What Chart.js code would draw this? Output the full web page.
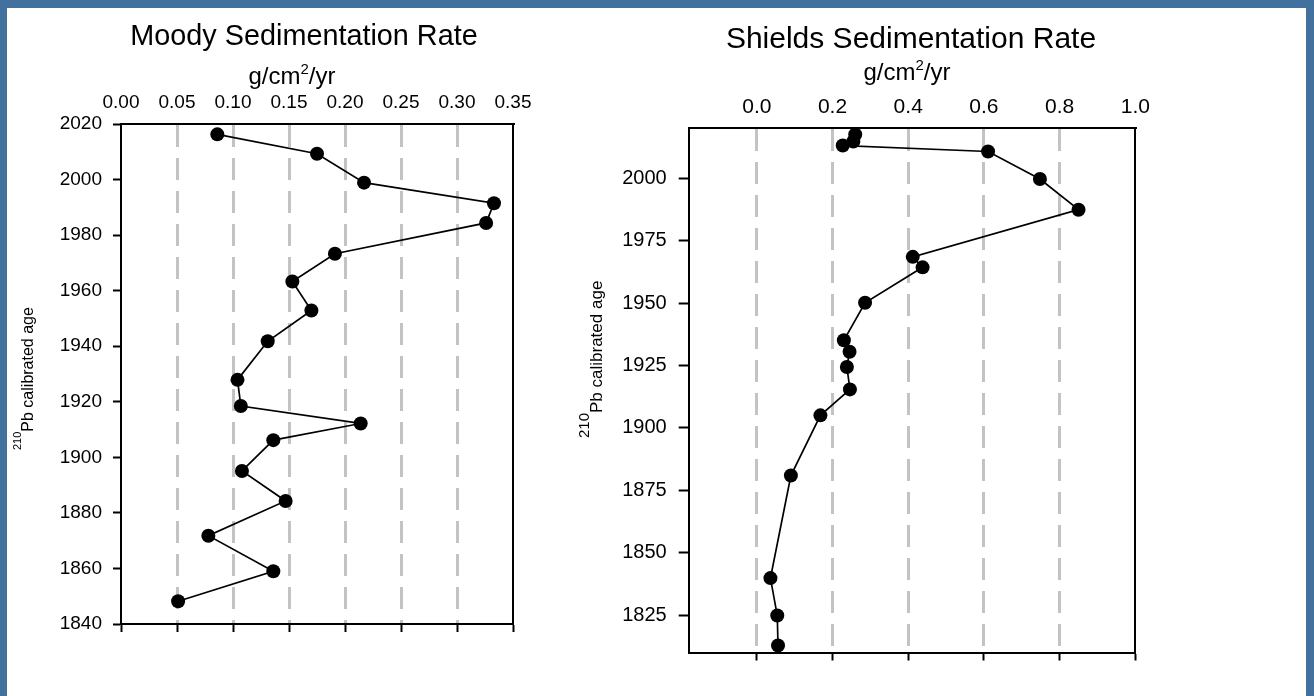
<!DOCTYPE html>
<html>
<head>
<meta charset="utf-8">
<script src="https://cdn.jsdelivr.net/npm/chart.js@4.4.1/dist/chart.umd.min.js"></script>
<style>
  html, body { margin: 0; padding: 0; }
  body { width: 1314px; height: 696px; background: #41719c; position: relative; overflow: hidden; }
  #panel { position: absolute; left: 7px; top: 8px; width: 1299px; height: 688px; background: #fff; }
  canvas { position: absolute; top: 0; }
  #moodyChart { left: 0; width: 608px; height: 696px; }
  #shieldsChart { left: 560px; width: 702px; height: 696px; }
</style>
</head>
<body>
<div id="panel"></div>
<canvas id="moodyChart" width="608" height="696"></canvas>
<canvas id="shieldsChart" width="702" height="696"></canvas>
<script>
// Moody core: 210Pb age vs sedimentation rate
const moodyYears = [2016.3, 2009.3, 1998.9, 1991.5, 1984.4, 1973.3, 1963.3, 1952.9, 1941.8,
                    1927.9, 1918.5, 1912.2, 1906.2, 1895.1, 1884.3, 1871.8, 1859.0, 1848.2];
const moodyRates = [0.086, 0.175, 0.217, 0.333, 0.326, 0.191, 0.153, 0.170, 0.131,
                    0.104, 0.107, 0.214, 0.136, 0.108, 0.147, 0.078, 0.136, 0.051];
const moodyRateTicks = [0, 0.05, 0.10, 0.15, 0.20, 0.25, 0.30, 0.35];
const moodyYearTicks = [1840, 1860, 1880, 1900, 1920, 1940, 1960, 1980, 2000, 2020];

// Shields core
const shieldsYears = [2017.5, 2014.7, 2013.1, 2010.7, 1999.7, 1987.4, 1968.5, 1964.3, 1950.1,
                      1935.1, 1930.5, 1924.4, 1915.4, 1905.0, 1880.9, 1839.8, 1824.8, 1812.8];
const shieldsRates = [0.260, 0.255, 0.227, 0.611, 0.748, 0.850, 0.412, 0.438, 0.286,
                      0.230, 0.245, 0.238, 0.246, 0.168, 0.090, 0.036, 0.054, 0.056];
const shieldsRateTicks = [0, 0.2, 0.4, 0.6, 0.8, 1.0];
const shieldsYearTicks = [1825, 1850, 1875, 1900, 1925, 1950, 1975, 2000];

const FONT = "'Liberation Sans', Arial, sans-serif";
const GRID_GREY = '#c3c3c3';

Chart.defaults.font.family = FONT;
Chart.defaults.color = '#000';

const useTicks = (values) => (scale) => { scale.ticks = values.map(v => ({ value: v })); };
const fixSize = (key, size) => (scale) => { scale[key] = size; };

// unit line and rotated y title, drawn with real superscripts
const sideText = {
    id: 'sideText',
    afterDraw(chart, args, o) {
        const ctx = chart.ctx;
        const f = (s) => `${s}px ${FONT}`;
        ctx.save();
        ctx.fillStyle = '#000';
        ctx.textAlign = 'left';
        ctx.textBaseline = 'alphabetic';

        ctx.font = f(o.unitSize);
        const wa = ctx.measureText('g/cm').width;
        const wb = ctx.measureText('/yr').width;
        ctx.font = f(o.unitSup);
        const ws = ctx.measureText('2').width;
        let x = o.unitX - (wa + ws + wb) / 2;
        ctx.font = f(o.unitSize);
        ctx.fillText('g/cm', x, o.unitY);
        x += wa;
        ctx.font = f(o.unitSup);
        ctx.fillText('2', x, o.unitY - o.unitRaise);
        x += ws;
        ctx.font = f(o.unitSize);
        ctx.fillText('/yr', x, o.unitY);

        ctx.translate(o.ageX, o.ageY);
        ctx.rotate(-Math.PI / 2);
        ctx.font = f(o.ageSup);
        const w2 = ctx.measureText('210').width;
        ctx.fillText('210', 0, -o.ageRaise);
        ctx.font = f(o.ageSize);
        ctx.fillText('Pb calibrated age', w2, 0);
        ctx.restore();
    }
};

function profileChart(id, c) {
    const lastTick = c.rateTicks.length - 1;
    return new Chart(document.getElementById(id), {
        type: 'scatter',
        data: {
            datasets: [{
                data: c.rates.map((r, i) => ({ x: r, y: c.years[i] })),
                showLine: true,
                borderColor: '#000',
                borderWidth: 1.7,
                pointRadius: 7,
                pointHoverRadius: 7,
                pointBackgroundColor: '#000',
                pointBorderWidth: 0
            }]
        },
        options: {
            responsive: false,
            animation: false,
            layout: { padding: { top: 8, left: 0, right: 0, bottom: 0 } },
            plugins: {
                legend: { display: false },
                tooltip: { enabled: false },
                title: {
                    display: true,
                    text: c.title,
                    color: '#000',
                    font: { size: c.titleSize, weight: 'normal' },
                    padding: { top: c.titlePad, bottom: 0 }
                },
                sideText: c.text
            },
            scales: {
                x: {
                    type: 'linear',
                    position: 'top',
                    min: c.xMin,
                    max: c.xMax,
                    afterBuildTicks: useTicks(c.rateTicks),
                    afterFit: fixSize('height', c.topH),
                    ticks: {
                        font: { size: c.xTickSize },
                        padding: c.xTickPad,
                        callback: v => v.toFixed(c.digits)
                    },
                    grid: {
                        drawTicks: false,
                        lineWidth: 3,
                        color: ctx => (ctx.index === lastTick || (c.xMin === 0 && ctx.index === 0)) ? 'rgba(0,0,0,0)' : GRID_GREY
                    },
                    border: { color: '#000', width: 2, dash: [22, 11] }
                },
                x2: {
                    type: 'linear',
                    position: 'bottom',
                    min: c.xMin,
                    max: c.xMax,
                    afterBuildTicks: useTicks(c.rateTicks),
                    afterFit: fixSize('height', c.bottomH),
                    ticks: { display: false },
                    grid: { drawOnChartArea: false, tickLength: 8, tickColor: '#000', tickWidth: 2 },
                    border: { color: '#000', width: 2 }
                },
                y: {
                    type: 'linear',
                    position: 'left',
                    min: c.yMin,
                    max: c.yMax,
                    afterBuildTicks: useTicks(c.yearTicks),
                    afterFit: fixSize('width', c.leftW),
                    ticks: { font: { size: c.yTickSize }, padding: c.yTickPad, callback: v => String(v) },
                    grid: { drawOnChartArea: false, tickLength: c.yTickLen, tickColor: '#000', tickWidth: 2 },
                    border: { color: '#000', width: 2 }
                },
                y2: {
                    type: 'linear',
                    position: 'right',
                    min: c.yMin,
                    max: c.yMax,
                    afterFit: fixSize('width', c.rightW),
                    ticks: { display: false },
                    grid: { display: false },
                    border: { color: '#000', width: 2 }
                }
            }
        },
        plugins: [sideText]
    });
}

profileChart('moodyChart', {
    title: 'Moody Sedimentation Rate', titleSize: 28.8, titlePad: 12,
    years: moodyYears, rates: moodyRates,
    rateTicks: moodyRateTicks, yearTicks: moodyYearTicks,
    xMin: 0, xMax: 0.35, yMin: 1840, yMax: 2020, digits: 2,
    topH: 69.5, bottomH: 72, leftW: 121, rightW: 95,
    xTickSize: 19, xTickPad: 10, yTickSize: 19, yTickPad: 11, yTickLen: 8,
    text: { unitX: 292, unitY: 84, unitSize: 24, unitSup: 15, unitRaise: 10,
            ageX: 32.5, ageY: 450, ageSize: 16, ageSup: 11, ageRaise: 12 }
});

profileChart('shieldsChart', {
    title: 'Shields Sedimentation Rate', titleSize: 30, titlePad: 14,
    years: shieldsYears, rates: shieldsRates,
    rateTicks: shieldsRateTicks, yearTicks: shieldsYearTicks,
    xMin: -0.18, xMax: 1.0, yMin: 1810, yMax: 2020, digits: 1,
    topH: 70.3, bottomH: 43.5, leftW: 128.7, rightW: 126.7,
    xTickSize: 21, xTickPad: 8, yTickSize: 20, yTickPad: 12, yTickLen: 10,
    text: { unitX: 347, unitY: 80, unitSize: 24, unitSup: 15, unitRaise: 10,
            ageX: 42, ageY: 438, ageSize: 17, ageSup: 15, ageRaise: 13 }
});
</script>
</body>
</html>
